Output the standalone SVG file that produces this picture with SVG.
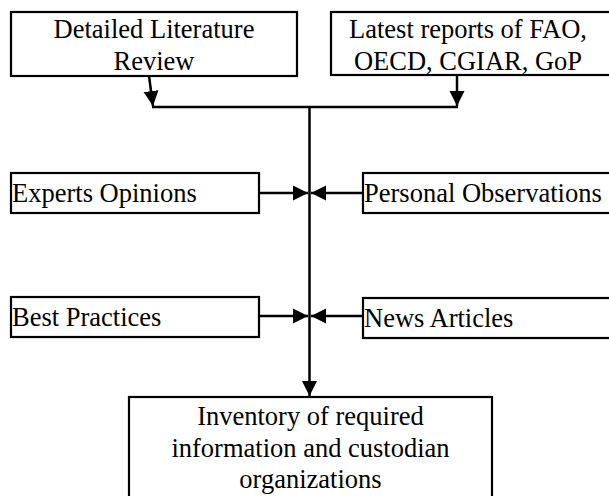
<svg xmlns="http://www.w3.org/2000/svg" width="609" height="496" viewBox="0 0 609 496">
  <style>
    .box { fill: #ffffff; stroke: #000000; stroke-width: 2.2; }
    .lbl { font-family: "Liberation Serif", "Times New Roman", serif; font-size: 26.5px; fill: #000000; }
    .mid { text-anchor: middle; }
    .conn { fill: none; stroke: #000000; stroke-width: 2.5; }
  </style>
  <defs>
    <marker id="arr" markerUnits="userSpaceOnUse" markerWidth="16" markerHeight="16" viewBox="0 0 16 16" refX="15" refY="8" orient="auto">
      <path d="M0,0.5 L15,8 L0,15.5 Z" fill="#000000"/>
    </marker>
  </defs>
  <rect x="0" y="0" width="609" height="496" fill="#ffffff"/>

  <g id="node-literature">
    <rect class="box" x="11" y="12" width="286" height="64"/>
    <text class="lbl mid" x="154" y="38">Detailed Literature</text>
    <text class="lbl mid" x="154" y="70">Review</text>
  </g>
  <g id="node-reports">
    <rect class="box" x="331" y="12" width="280" height="63"/>
    <text class="lbl mid" x="468" y="38">Latest reports of FAO,</text>
    <text class="lbl mid" x="468" y="70">OECD, CGIAR, GoP</text>
  </g>
  <g id="node-experts">
    <rect class="box" x="11" y="173" width="248" height="40"/>
    <text class="lbl" x="12" y="202">Experts Opinions</text>
  </g>
  <g id="node-personal">
    <rect class="box" x="363" y="173" width="248" height="40"/>
    <text class="lbl" x="364" y="202">Personal Observations</text>
  </g>
  <g id="node-best">
    <rect class="box" x="11" y="297" width="248" height="40"/>
    <text class="lbl" x="12" y="326">Best Practices</text>
  </g>
  <g id="node-news">
    <rect class="box" x="363" y="298" width="248" height="40"/>
    <text class="lbl" x="364" y="327">News Articles</text>
  </g>
  <g id="node-inventory">
    <rect class="box" x="129" y="397" width="363" height="102"/>
    <text class="lbl mid" x="310.5" y="425">Inventory of required</text>
    <text class="lbl mid" x="310.5" y="457">information and custodian</text>
    <text class="lbl mid" x="310.5" y="488">organizations</text>
  </g>

  <g id="connectors">
    <path class="conn" d="M149,76 L153,106" marker-end="url(#arr)"/>
    <path class="conn" d="M457,75 L457,106" marker-end="url(#arr)"/>
    <path class="conn" d="M152,107 L458,107"/>
    <path class="conn" d="M309.5,107 L309.5,396" marker-end="url(#arr)"/>
    <path class="conn" d="M259,193 L308,193" marker-end="url(#arr)"/>
    <path class="conn" d="M363,193 L311,193" marker-end="url(#arr)"/>
    <path class="conn" d="M259,316 L308,316" marker-end="url(#arr)"/>
    <path class="conn" d="M363,316 L311,316" marker-end="url(#arr)"/>
  </g>
</svg>
